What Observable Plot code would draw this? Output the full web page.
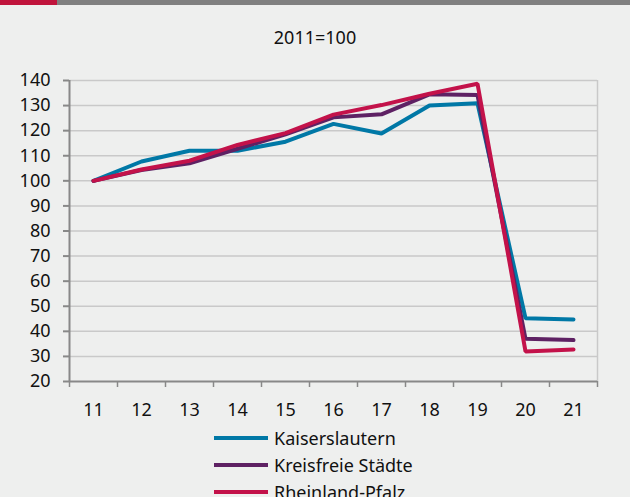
<!DOCTYPE html>
<html>
<head>
<meta charset="utf-8">
<script src="https://cdn.jsdelivr.net/npm/d3@7"></script>
<script src="https://cdn.jsdelivr.net/npm/@observablehq/plot@0.6"></script>
<style>
  html, body { margin: 0; padding: 0; }
  body { width: 630px; height: 497px; overflow: hidden; position: relative; background: #eeefee; font-family: "Noto Sans", sans-serif; color: #111; }
  #barRed { position: absolute; left: 0; top: 0; width: 57px; height: 5px; background: #c0143c; }
  #barGrey { position: absolute; left: 57px; top: 0; width: 573px; height: 5px; background: #808080; }
  #title { position: absolute; top: 25px; left: 0; width: 630px; text-align: center; font-size: 18px; }
  #chart { position: absolute; top: 60px; left: 0; }
  #legend { position: absolute; top: 424px; left: 214px; font-size: 18px; }
  .row { display: flex; align-items: center; height: 27px; }
  .row svg { margin-right: 6px; }
</style>
</head>
<body>
<div id="barRed"></div><div id="barGrey"></div>
<div id="title">2011=100</div>
<div id="chart"></div>
<div id="legend"></div>
<script>
const years = [11, 12, 13, 14, 15, 16, 17, 18, 19, 20, 21];
const seriesNames = ["Kaiserslautern", "Kreisfreie Städte", "Rheinland-Pfalz"];
const kaiserslautern = [100, 107.7, 112, 112, 115.6, 122.7, 118.9, 130, 130.9, 45.2, 44.7];
const kreisfreie = [100, 104.3, 107, 112.8, 118.5, 125.3, 126.5, 134.5, 134.2, 37, 36.5];
const rheinlandPfalz = [100, 104.5, 108, 114.3, 119, 126.4, 130.2, 134.7, 138.7, 32, 32.8];
const yTicks = [20, 30, 40, 50, 60, 70, 80, 90, 100, 110, 120, 130, 140];
const colors = ["#0078a6", "#5e2163", "#c3124a"];

const seriesValues = [kaiserslautern, kreisfreie, rheinlandPfalz];
const table = [];
seriesNames.forEach((name, i) => {
  years.forEach((yr, j) => table.push({series: name, year: yr, value: seriesValues[i][j]}));
});
const half = 0.5;
const boundaries = [years[0] - half, ...years.map(y => y + half)];
const xDomain = [years[0] - half, years[years.length - 1] + half];

const chart = Plot.plot({
  width: 630,
  height: 360,
  marginLeft: 69,
  marginRight: 33,
  marginTop: 20,
  marginBottom: 39,
  style: {background: "transparent", fontSize: "18px", fontFamily: "Noto Sans", color: "#111"},
  x: {type: "linear", domain: xDomain, axis: null},
  y: {domain: [yTicks[0], yTicks[yTicks.length - 1]], axis: null},
  color: {domain: seriesNames, range: colors},
  marks: [
    Plot.ruleY(yTicks.slice(1), {stroke: "#c9c9c9", strokeWidth: 1.5}),
    Plot.ruleX([xDomain[1]], {stroke: "#c9c9c9", strokeWidth: 1.5}),
    Plot.axisY({ticks: yTicks, tickSize: 6, tickPadding: 13, stroke: "#888", strokeWidth: 2, strokeOpacity: 1, label: null, fill: "#111"}),
    Plot.axisX({ticks: boundaries, tickSize: 6, tickFormat: () => "", stroke: "#888", strokeWidth: 1.5, strokeOpacity: 1, label: null}),
    Plot.axisX({ticks: years, tickSize: 0, tickPadding: 22, label: null, fill: "#111"}),
    Plot.ruleX([xDomain[0]], {stroke: "#888", strokeWidth: 2}),
    Plot.ruleY([yTicks[0]], {stroke: "#888", strokeWidth: 2}),
    Plot.line(table, {x: "year", y: "value", z: "series", stroke: "series", strokeWidth: 4, strokeLinejoin: "miter", strokeLinecap: "round"})
  ]
});
document.getElementById("chart").appendChild(chart);

const legend = document.getElementById("legend");
seriesNames.forEach((name, i) => {
  const row = document.createElement("div");
  row.className = "row";
  row.innerHTML = `<svg width="54" height="6"><line x1="0" x2="54" y1="3" y2="3" stroke="${colors[i]}" stroke-width="4" stroke-linecap="round"/></svg><span>${name}</span>`;
  legend.appendChild(row);
});
</script>
</body>
</html>
